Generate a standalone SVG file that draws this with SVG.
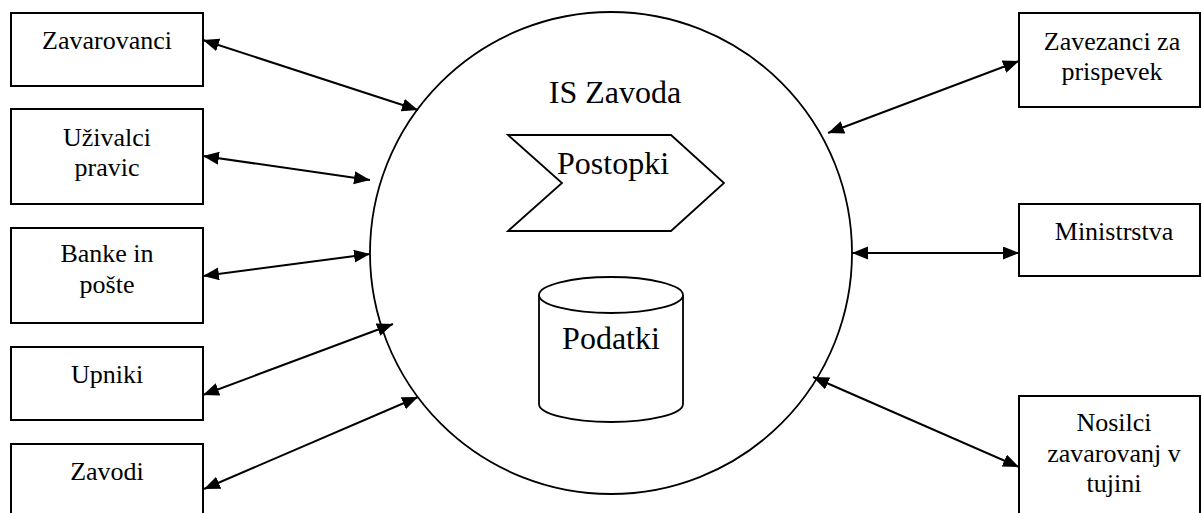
<svg xmlns="http://www.w3.org/2000/svg" width="1201" height="513" viewBox="0 0 1201 513">
  <style>
    .box { fill: #ffffff; stroke: #000000; stroke-width: 2; }
    .shape { fill: #ffffff; stroke: #000000; stroke-width: 1.8; }
    text { font-family: 'Liberation Serif', 'Times New Roman', Tinos, 'DejaVu Serif', serif; fill: #000000; text-anchor: middle; }
    .lbl { font-size: 26px; }
    .big { font-size: 32px; }
    .conn { stroke: #000000; stroke-width: 2; fill: none; marker-start: url(#arrow); marker-end: url(#arrow); }
  </style>
  <defs>
    <marker id="arrow" markerUnits="userSpaceOnUse" markerWidth="18" markerHeight="14" refX="16" refY="6.5" orient="auto-start-reverse">
      <path d="M0,0 L16,6.5 L0,13 z" fill="#000000"/>
    </marker>
  </defs>
  <rect width="1201" height="513" fill="#ffffff"/>

  <!-- central information system -->
  <g id="is-zavoda">
    <circle class="shape" cx="611" cy="253" r="241"/>
    <text class="big" x="615" y="103">IS Zavoda</text>
  </g>
  <g id="postopki">
    <polygon class="shape" points="508,135 671,135 724,183 671,231 508,231 562,183"/>
    <text class="big" x="613" y="174">Postopki</text>
  </g>
  <g id="podatki">
    <path class="shape" d="M539,295 L539,404 A72,18 0 0 0 683,404 L683,295"/>
    <ellipse class="shape" cx="611" cy="295" rx="72" ry="18"/>
    <text class="big" x="611" y="349">Podatki</text>
  </g>

  <!-- left-hand parties -->
  <g id="zavarovanci">
    <rect class="box" x="11" y="13" width="192" height="73"/>
    <text class="lbl" x="107" y="49">Zavarovanci</text>
  </g>
  <g id="uzivalci">
    <rect class="box" x="11" y="109" width="192" height="95"/>
    <text class="lbl" x="107" y="146">Uživalci</text>
    <text class="lbl" x="107" y="176">pravic</text>
  </g>
  <g id="banke">
    <rect class="box" x="11" y="228" width="192" height="95"/>
    <text class="lbl" x="107" y="262">Banke in</text>
    <text class="lbl" x="107" y="293">pošte</text>
  </g>
  <g id="upniki">
    <rect class="box" x="11" y="347" width="192" height="73"/>
    <text class="lbl" x="107" y="383">Upniki</text>
  </g>
  <g id="zavodi">
    <rect class="box" x="11" y="444" width="192" height="90"/>
    <text class="lbl" x="107" y="480">Zavodi</text>
  </g>

  <!-- right-hand parties -->
  <g id="zavezanci">
    <rect class="box" x="1019" y="13" width="181" height="94"/>
    <text class="lbl" x="1112" y="50">Zavezanci za</text>
    <text class="lbl" x="1112" y="80">prispevek</text>
  </g>
  <g id="ministrstva">
    <rect class="box" x="1019" y="204" width="181" height="72"/>
    <text class="lbl" x="1114" y="240">Ministrstva</text>
  </g>
  <g id="nosilci">
    <rect class="box" x="1019" y="396" width="181" height="140"/>
    <text class="lbl" x="1114" y="431">Nosilci</text>
    <text class="lbl" x="1114" y="462">zavarovanj v</text>
    <text class="lbl" x="1114" y="492">tujini</text>
  </g>

  <!-- two-way data flows -->
  <g id="connectors">
    <line class="conn" x1="203" y1="40" x2="418" y2="110"/>
    <line class="conn" x1="203" y1="156" x2="370" y2="180"/>
    <line class="conn" x1="203" y1="276" x2="370" y2="254"/>
    <line class="conn" x1="203" y1="395" x2="393" y2="324"/>
    <line class="conn" x1="204" y1="489" x2="418" y2="397"/>
    <line class="conn" x1="1019" y1="61" x2="828" y2="133"/>
    <line class="conn" x1="852" y1="253" x2="1019" y2="253"/>
    <line class="conn" x1="813" y1="377" x2="1019" y2="467"/>
  </g>
</svg>
